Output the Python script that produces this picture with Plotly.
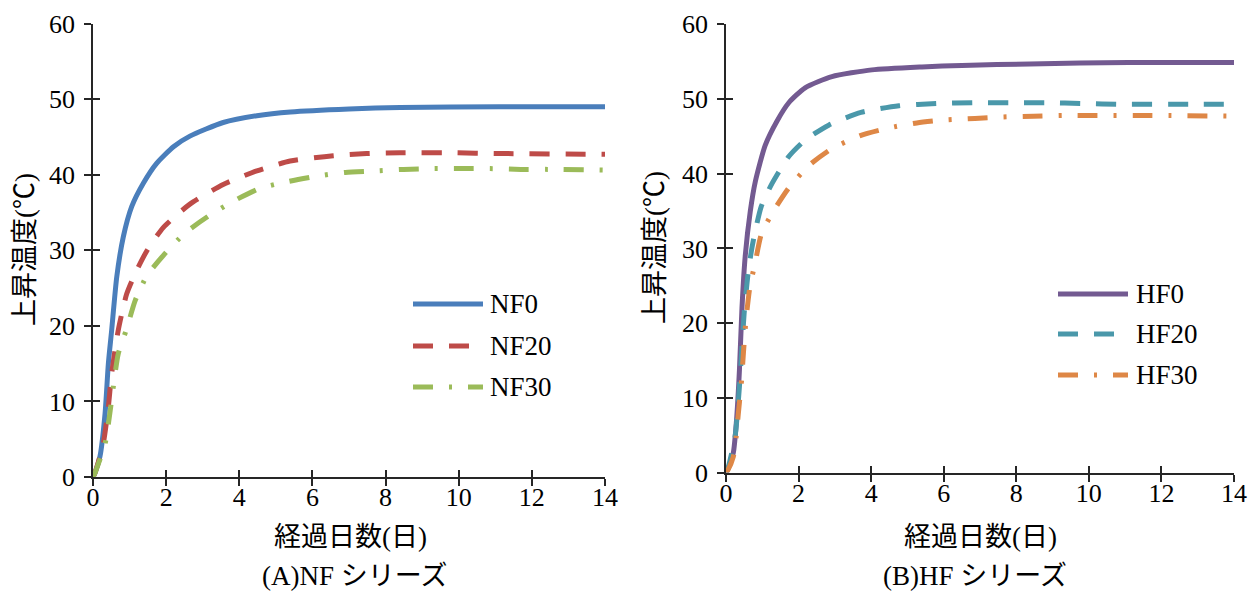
import plotly.graph_objects as go

# ---------------- data ----------------
days_nf0 = [0, 0.05, 0.19, 0.33, 0.42, 0.51, 0.65, 0.83, 1.06, 1.38, 1.74, 2.2, 2.65, 3.56, 4.48, 5.4, 7.0, 8.4, 11.1, 14]
temp_nf0 = [0, 0.5, 2.7, 8.4, 15.0, 19.4, 26.5, 31.8, 35.8, 38.9, 41.5, 43.7, 45.1, 46.9, 47.8, 48.3, 48.7, 48.9, 49.0, 49.0]

days_nf20 = [0, 0.05, 0.28, 0.42, 0.51, 0.69, 0.92, 1.19, 1.47, 1.92, 2.65, 3.56, 4.48, 5.39, 6.57, 7.48, 8.39, 9.76, 11.1, 14]
temp_nf20 = [0, 0.5, 4.4, 9.3, 13.7, 19.4, 24.2, 27.3, 29.9, 33.0, 36.1, 38.7, 40.5, 41.8, 42.5, 42.8, 42.9, 42.9, 42.8, 42.7]

days_nf30 = [0, 0.05, 0.33, 0.46, 0.56, 0.69, 0.92, 1.15, 1.47, 1.92, 2.52, 3.15, 3.84, 4.57, 5.34, 6.12, 6.9, 7.71, 8.49, 9.31, 10.1, 10.86, 11.7, 12.45, 14]
temp_nf30 = [0, 0.5, 4.4, 8.4, 12.1, 16.3, 19.6, 23.3, 26.6, 29.3, 32.3, 34.5, 36.5, 38.2, 39.1, 39.8, 40.3, 40.5, 40.7, 40.8, 40.8, 40.8, 40.7, 40.7, 40.6]

days_hf0 = [0, 0.02, 0.2, 0.29, 0.37, 0.44, 0.53, 0.67, 0.81, 1.08, 1.4, 1.73, 2.18, 2.92, 4.02, 5.4, 6.5, 8.37, 11.1, 14]
temp_hf0 = [0, 0.1, 2.6, 7.0, 13.7, 22.0, 29.0, 35.0, 39.0, 43.8, 47.0, 49.5, 51.5, 53.0, 53.9, 54.3, 54.5, 54.7, 54.9, 54.9]

days_hf20 = [0, 0.05, 0.25, 0.37, 0.43, 0.5, 0.61, 0.73, 0.97, 1.27, 1.73, 2.18, 2.83, 3.72, 4.77, 5.8, 6.81, 7.82, 8.83, 9.84, 10.85, 12.87, 14]
temp_hf20 = [0, 0.5, 4.8, 11.5, 16.0, 21.3, 26.7, 30.5, 35.6, 38.7, 42.3, 44.5, 46.5, 48.2, 49.1, 49.4, 49.5, 49.5, 49.5, 49.4, 49.3, 49.3, 49.3]

days_hf30 = [0, 0.05, 0.2, 0.28, 0.34, 0.43, 0.48, 0.55, 0.66, 0.8, 0.98, 1.32, 1.76, 2.31, 2.9, 3.7, 4.46, 5.26, 6.04, 6.86, 7.64, 8.47, 9.29, 10.07, 11.68, 14]
temp_hf30 = [0, 0.3, 2.1, 4.8, 7.9, 12.4, 16.0, 20.4, 24.9, 28.0, 32.0, 35.1, 38.3, 41.2, 43.3, 45.1, 46.1, 46.8, 47.2, 47.4, 47.6, 47.7, 47.8, 47.8, 47.8, 47.7]

series_left = ["NF0", "NF20", "NF30"]
series_right = ["HF0", "HF20", "HF30"]
x_title = "経過日数(日)"
y_title = "上昇温度(℃)"
caption_left = "(A)NF シリーズ"
caption_right = "(B)HF シリーズ"

# ---------------- style ----------------
W, H = 1250, 591
FONT = "Liberation Serif, Times New Roman, Noto Sans CJK JP, serif"
AX = "#262626"
DASH = "20px,16px"
DASHDOT = "20px,16px,3px,16px"
colors_left = ["#4A7EBB", "#BE4B48", "#9BBB59"]
colors_right = ["#735A91", "#4A98AA", "#DE8746"]
dashes = ["solid", DASH, DASHDOT]

def px(xp):
    return xp / W

def py(yp):
    return 1 - yp / H

fig = go.Figure()

left_data = [(days_nf0, temp_nf0), (days_nf20, temp_nf20), (days_nf30, temp_nf30)]
right_data = [(days_hf0, temp_hf0), (days_hf20, temp_hf20), (days_hf30, temp_hf30)]

# invisible copies that register the overlay axes (inside half of the crossing ticks + labels)
for xa, ya, (xs, ys) in [("x3", "y", left_data[0]), ("x", "y3", left_data[0]),
                         ("x4", "y2", right_data[0]), ("x2", "y4", right_data[0])]:
    fig.add_trace(go.Scatter(x=xs, y=ys, mode="lines", xaxis=xa, yaxis=ya, opacity=0,
                             line=dict(width=0), hoverinfo="skip", showlegend=False))

for name, (xs, ys), c, d in zip(series_left, left_data, colors_left, dashes):
    fig.add_trace(go.Scatter(x=xs, y=ys, name=name, mode="lines", xaxis="x", yaxis="y",
                             line=dict(color=c, width=5, dash=d, shape="spline", smoothing=0.6),
                             showlegend=False))
for name, (xs, ys), c, d in zip(series_right, right_data, colors_right, dashes):
    fig.add_trace(go.Scatter(x=xs, y=ys, name=name, mode="lines", xaxis="x2", yaxis="y2",
                             line=dict(color=c, width=5, dash=d, shape="spline", smoothing=0.6),
                             showlegend=False))

tickfont = dict(family=FONT, size=26, color="#000")

# main axes: axis line + outside ticks (no labels)
def xax(domain, anchor):
    return dict(domain=domain, anchor=anchor, range=[0, 14], dtick=2, tick0=0, automargin=False,
                showgrid=False, zeroline=False, showline=True, linecolor=AX, linewidth=2,
                ticks="outside", ticklen=7, tickwidth=2, tickcolor=AX,
                showticklabels=False, fixedrange=True)

def yax(domain, anchor):
    return dict(domain=domain, anchor=anchor, range=[0, 60], dtick=10, tick0=0, automargin=False,
                showgrid=False, zeroline=False, showline=True, linecolor=AX, linewidth=2,
                ticks="outside", ticklen=7, tickwidth=2, tickcolor=AX,
                showticklabels=False, fixedrange=True)

# overlay axes: inside ticks (completing the crossing ticks) + tick labels
def inner(base, anchor, rng, dt, standoff):
    return dict(overlaying=base, anchor=anchor, range=rng, dtick=dt, tick0=0, automargin=False,
                showgrid=False, zeroline=False, showline=False, showticklabels=True,
                tickfont=tickfont, ticklabelstandoff=standoff,
                ticks="inside", ticklen=7, tickwidth=2, tickcolor=AX, fixedrange=True)

fig.update_layout(
    width=W, height=H, autosize=False,
    margin=dict(l=0, r=0, t=0, b=0, pad=0),
    paper_bgcolor="white", plot_bgcolor="rgba(0,0,0,0)",
    showlegend=False,
    font=dict(family=FONT, size=26, color="#000"),
    xaxis=xax([px(93), px(605)], "y"),
    yaxis=yax([py(477), py(23.5)], "x"),
    xaxis2=xax([px(726), px(1234)], "y2"),
    yaxis2=yax([py(472.5), py(24.3)], "x2"),
    xaxis3=inner("x", "y", [0, 14], 2, 2),
    yaxis3=inner("y", "x", [0, 60], 10, 17),
    xaxis4=inner("x2", "y2", [0, 14], 2, 2),
    yaxis4=inner("y2", "x2", [0, 60], 10, 17),
)

annots = []
def txt(text, x, y, size=27, xanchor="center", angle=0):
    annots.append(dict(text=text, x=px(x), y=py(y), xref="paper", yref="paper",
                       xanchor=xanchor, yanchor="middle", showarrow=False, textangle=angle,
                       font=dict(family=FONT, size=size, color="#000")))

txt(x_title, 350, 537)
txt(x_title, 980, 537)
txt(caption_left, 355, 576)
txt(caption_right, 975, 576)
txt(y_title, 25, 250, angle=-90)
txt(y_title, 655, 248, angle=-90)

shapes = []
leg_left_y = [304, 346, 387]
leg_right_y = [294, 334, 375]
for name, c, d, yy in zip(series_left, colors_left, dashes, leg_left_y):
    shapes.append(dict(type="line", xref="paper", yref="paper", x0=px(413), x1=px(483),
                       y0=py(yy), y1=py(yy), line=dict(color=c, width=5, dash=d)))
    txt(name, 488, yy, size=27, xanchor="left")
for name, c, d, yy in zip(series_right, colors_right, dashes, leg_right_y):
    shapes.append(dict(type="line", xref="paper", yref="paper", x0=px(1058), x1=px(1128),
                       y0=py(yy), y1=py(yy), line=dict(color=c, width=5, dash=d)))
    txt(name, 1134, yy, size=27, xanchor="left")

fig.update_layout(annotations=annots, shapes=shapes)
fig.write_html("out.html", config={"displayModeBar": False},
               post_script="document.body.style.margin='0px';document.body.style.overflow='hidden';")
